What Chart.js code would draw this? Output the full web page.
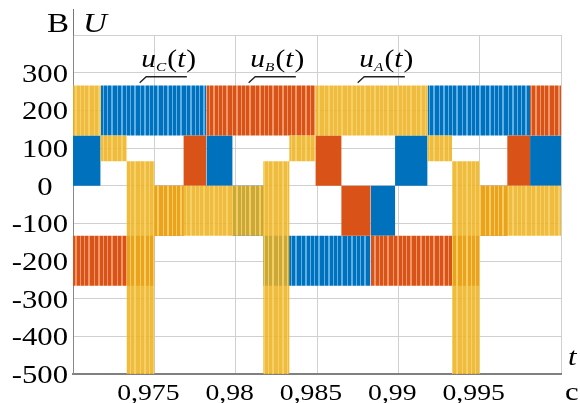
<!DOCTYPE html>
<html>
<head>
<meta charset="utf-8">
<script src="https://cdn.jsdelivr.net/npm/chart.js@4"></script>
<style>
  html, body { margin: 0; padding: 0; background: #fff; }
</style>
</head>
<body>
<canvas id="myChart" width="580" height="403"></canvas>
<script>
// each phase is a list of blocks: value band holds from its start time to the next one
const timesA = [0.9700, 0.9717, 0.9733, 0.9750, 0.9817, 0.9833, 0.9849, 0.9918, 0.9933, 0.9950, 1.0000];
const upperA = [266, 133, 65, 0, 65, 133, 266, 133, 65, 0, 0];
const lowerA = [133, 65, -500, -133, -500, 65, 133, 65, -500, -133, -133];

const timesB = [0.9700, 0.9750, 0.9768, 0.9782, 0.9849, 0.9865, 0.9883, 0.9950, 0.9967, 0.9981, 1.0000];
const upperB = [-133, 0, 133, 266, 133, 0, -133, 0, 133, 266, 266];
const lowerB = [-266, -133, 0, 133, 0, -133, -266, -133, 0, 133, 133];

const timesC = [0.9700, 0.9717, 0.9782, 0.9798, 0.9817, 0.9883, 0.9898, 0.9918, 0.9981, 1.0000];
const upperC = [133, 266, 133, 0, -133, 0, 133, 266, 133, 133];
const lowerC = [0, 133, 0, -133, -266, -133, 0, 133, 0, 0];

// tick labels
const xTicks = [0.975, 0.98, 0.985, 0.99, 0.995];
const xTickLabels = ["0,975", "0,98", "0,985", "0,99", "0,995"];
const yTicks = [300, 200, 100, 0, -100, -200, -300, -400, -500];
const yTickLabels = ["300", "200", "100", "0", "-100", "-200", "-300", "-400", "-500"];

// curve labels u_C(t), u_B(t), u_A(t)
const labelSubs = ["C", "B", "A"];
const labelTimes = [0.9742, 0.9809, 0.9876];
const labelValue = 316;

const serif = "'Liberation Serif', 'Times New Roman', serif";
const stretch = 1.18; // the source picture is a bit wider than tall

// vertical stripes to look like the PWM switching
function stripes(base, light) {
  const c = document.createElement("canvas");
  c.width = 23;
  c.height = 4;
  const g = c.getContext("2d");
  g.fillStyle = base;
  g.fillRect(0, 0, 23, 4);
  g.fillStyle = light;
  [[2, 1], [6, 2], [11, 1], [15, 1], [19, 2]].forEach(([x, w]) => g.fillRect(x, 0, w, 4));
  return g.createPattern(c, "repeat");
}

const blue = "rgb(0,114,189)";
const orange = "rgb(217,83,25)";
const yellow = "rgba(237,177,32,0.86)";
const blueStripes = stripes(blue, "rgb(95,175,228)");
const orangeStripes = stripes(orange, "rgb(238,152,105)");
const yellowStripes = stripes(yellow, "rgba(246,212,110,0.86)");

function pts(times, vals) {
  return times.map((t, i) => ({ x: t, y: vals[i] }));
}

// outer bands (|u| between 133 and 266) switch fast, the inner ones less
function bandStyle(solid, striped) {
  return (ctx) => {
    const hi = ctx.p0.parsed.y;
    return (hi === 266 || hi === -133) ? striped : solid;
  };
}

function phase(times, upper, lower, pattern, segFill) {
  return [
    {
      data: pts(times, upper),
      stepped: "before",
      fill: "+1",
      backgroundColor: pattern,
      segment: segFill ? { backgroundColor: segFill } : undefined,
      borderColor: "transparent",
      borderWidth: 0,
      pointRadius: 0
    },
    {
      data: pts(times, lower),
      stepped: "before",
      fill: false,
      borderColor: "transparent",
      borderWidth: 0,
      pointRadius: 0
    }
  ];
}

const datasets = [
  ...phase(timesA, upperA, lowerA, yellowStripes, null),
  ...phase(timesB, upperB, lowerB, orangeStripes, bandStyle(orange, orangeStripes)),
  ...phase(timesC, upperC, lowerC, blueStripes, bandStyle(blue, blueStripes))
];

// text drawn a little wider, like the source
function wideText(ctx, text, x, y, font, align) {
  ctx.save();
  ctx.font = font;
  ctx.translate(x, y);
  ctx.scale(stretch, 1);
  ctx.textAlign = align || "left";
  ctx.fillText(text, 0, 0);
  const w = ctx.measureText(text).width * stretch;
  ctx.restore();
  return w;
}

const textPlugin = {
  id: "texts",
  afterDraw(chart) {
    const ctx = chart.ctx;
    const x = chart.scales.x;
    const y = chart.scales.y;
    const area = chart.chartArea;
    ctx.save();
    ctx.fillStyle = "#000";
    ctx.textBaseline = "alphabetic";

    // axis line goes up past the plot, between the unit and the name
    ctx.strokeStyle = "#777";
    ctx.lineWidth = 1;
    ctx.beginPath();
    ctx.moveTo(area.left + 0.5, 9);
    ctx.lineTo(area.left + 0.5, area.top);
    ctx.stroke();

    yTicks.forEach((v, i) => {
      const label = v === 0 ? yTickLabels[i] + "\u2002" : yTickLabels[i];
      wideText(ctx, label, area.left - 5, y.getPixelForValue(v) + 9, "26px " + serif, "right");
    });
    xTicks.forEach((v, i) => {
      wideText(ctx, xTickLabels[i], x.getPixelForValue(v) - 6, 400, "23.5px " + serif, "center");
    });

    wideText(ctx, "В", area.left - 4, 32, "28px " + serif, "right");
    wideText(ctx, "U", area.left + 10, 32, "italic 28px " + serif, "left");
    wideText(ctx, "t", area.right + 7, 365, "italic 26px " + serif, "left");
    wideText(ctx, "с", area.right + 4, 400, "26px " + serif, "left");

    labelSubs.forEach((sub, i) => {
      const t = labelTimes[i];
      let px = x.getPixelForValue(t);
      const base = y.getPixelForValue(labelValue);
      px += wideText(ctx, "u", px, base, "italic 25px " + serif);
      px += wideText(ctx, sub, px, base + 4, "italic 13px " + serif) + 1;
      px += wideText(ctx, "(", px, base, "25px " + serif);
      px += wideText(ctx, "t", px, base, "italic 25px " + serif) + 1;
      wideText(ctx, ")", px, base, "25px " + serif);

      ctx.strokeStyle = "#222";
      ctx.lineWidth = 1.4;
      ctx.beginPath();
      ctx.moveTo(x.getPixelForValue(t - 0.0001), y.getPixelForValue(273));
      ctx.lineTo(x.getPixelForValue(t + 0.0003), y.getPixelForValue(289));
      ctx.lineTo(x.getPixelForValue(t + 0.0028), y.getPixelForValue(289));
      ctx.stroke();
    });
    ctx.restore();
  }
};

const ctx = document.getElementById("myChart");

new Chart(ctx, {
  type: "line",
  data: { datasets: datasets },
  options: {
    responsive: false,
    animation: false,
    layout: { padding: { top: 35, right: 19, left: 73, bottom: 29 } },
    plugins: {
      legend: { display: false },
      tooltip: { enabled: false }
    },
    scales: {
      x: {
        type: "linear",
        min: 0.97,
        max: 1.0,
        ticks: { stepSize: 0.005, display: false },
        grid: { color: "#d0d0d0", drawTicks: false },
        border: { color: "#808080", width: 2 }
      },
      y: {
        min: -500,
        max: 400,
        ticks: { stepSize: 100, display: false },
        grid: { color: "#d0d0d0", drawTicks: false },
        border: { color: "#888", width: 1 }
      }
    }
  },
  plugins: [textPlugin]
});
</script>
</body>
</html>
